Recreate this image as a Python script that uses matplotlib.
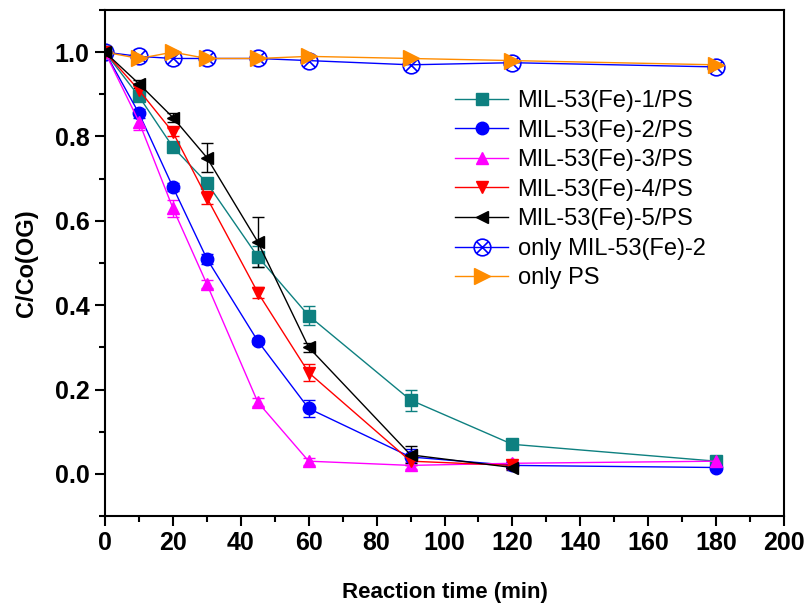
import numpy as np
import matplotlib
matplotlib.use('Agg')
from matplotlib import pyplot as plt
from matplotlib.path import Path
from matplotlib.ticker import MultipleLocator

plt.rcParams['font.family'] = ['Liberation Sans', 'DejaVu Sans']

# --- data: C/Co of OG vs reaction time ---
t_full = [0, 10, 20, 30, 45, 60, 90, 120, 180]
t_short = [0, 10, 20, 30, 45, 60, 90, 120]

mil1 = [1.0, 0.895, 0.775, 0.69, 0.515, 0.375, 0.175, 0.07, 0.03]
mil1_err = [0, 0.01, 0.012, 0.01, 0.025, 0.022, 0.025, 0.005, 0.005]
mil2 = [1.0, 0.855, 0.68, 0.51, 0.315, 0.155, 0.04, 0.02, 0.015]
mil2_err = [0, 0.01, 0.01, 0.012, 0.008, 0.02, 0.02, 0.005, 0.005]
mil3 = [1.0, 0.835, 0.63, 0.45, 0.17, 0.03, 0.02, 0.025, 0.03]
mil3_err = [0, 0.02, 0.02, 0.01, 0.01, 0.008, 0.008, 0.005, 0.005]
mil4 = [1.0, 0.91, 0.81, 0.655, 0.43, 0.24, 0.03, 0.02]
mil4_err = [0, 0.01, 0.01, 0.015, 0.012, 0.02, 0.01, 0.005]
mil5 = [1.0, 0.925, 0.845, 0.75, 0.55, 0.30, 0.045, 0.015]
mil5_err = [0, 0.01, 0.01, 0.035, 0.06, 0.01, 0.02, 0.005]
only_mil2 = [1.0, 0.99, 0.985, 0.985, 0.985, 0.98, 0.97, 0.975, 0.965]
only_ps = [1.0, 0.985, 1.0, 0.985, 0.985, 0.99, 0.985, 0.98, 0.97]

labels = ['MIL-53(Fe)-1/PS', 'MIL-53(Fe)-2/PS', 'MIL-53(Fe)-3/PS',
          'MIL-53(Fe)-4/PS', 'MIL-53(Fe)-5/PS', 'only MIL-53(Fe)-2', 'only PS']

# circle with a cross inside
circ = Path.unit_circle()
d = np.sqrt(0.5)
cross = Path([(-d, -d), (d, d), (-d, d), (d, -d)],
             [Path.MOVETO, Path.LINETO, Path.MOVETO, Path.LINETO])
circx = Path.make_compound_path(circ, cross)

fig = plt.figure(figsize=(8.09, 6.09), dpi=100)
ax = fig.add_axes([0.1298, 0.1527, 0.8393, 0.8309])

handles = []
eb = ax.errorbar(t_full, mil1, yerr=mil1_err, color='#0e8080', marker='s', ms=8,
                 lw=1, capsize=4, elinewidth=1)
handles.append(eb[0])
eb = ax.errorbar(t_full, mil2, yerr=mil2_err, color='#0000ff', marker='o', ms=9,
                 lw=1, capsize=4, elinewidth=1)
handles.append(eb[0])
eb = ax.errorbar(t_full, mil3, yerr=mil3_err, color='#ff00ff', marker='^', ms=9,
                 lw=1, capsize=4, elinewidth=1)
handles.append(eb[0])
eb = ax.errorbar(t_short, mil4, yerr=mil4_err, color='#ff0000', marker='v', ms=9,
                 lw=1, capsize=4, elinewidth=1)
handles.append(eb[0])
eb = ax.errorbar(t_short, mil5, yerr=mil5_err, color='#000000', marker='<', ms=9,
                 lw=1, capsize=4, elinewidth=1)
handles.append(eb[0])
ln, = ax.plot(t_full, only_mil2, color='#0000ff', marker=circx, ms=12, mfc='none',
              mec='#0000ff', mew=1.2, lw=1)
handles.append(ln)
ln, = ax.plot(t_full, only_ps, color='#ff8c00', marker='>', ms=11, lw=1)
handles.append(ln)

ax.set_xlim(0, 200)
ax.set_ylim(-0.1, 1.1)
ax.xaxis.set_major_locator(MultipleLocator(20))
ax.xaxis.set_minor_locator(MultipleLocator(10))
ax.yaxis.set_minor_locator(MultipleLocator(0.1))
ax.set_yticks([0.0, 0.2, 0.4, 0.6, 0.8, 1.0])
ax.set_yticklabels(['0.0', '0.2', '0.4', '0.6', '0.8', '1.0'])
ax.tick_params(which='major', direction='out', length=7.5, width=1.5,
               labelsize=18, pad=3.5)
ax.tick_params(which='minor', direction='out', length=4, width=1.5)
for lb in ax.get_xticklabels() + ax.get_yticklabels():
    lb.set_fontweight('bold')
for s in ax.spines.values():
    s.set_linewidth(1.5)

ax.set_xlabel('Reaction time (min)', fontsize=16, fontweight='bold', labelpad=19)
ax.set_ylabel('C/Co(OG)', fontsize=17, fontweight='bold', labelpad=12)

ax.legend(handles, labels, loc='upper left', bbox_to_anchor=(455 / 809, 1 - 90 / 609),
          bbox_transform=fig.transFigure, frameon=False, fontsize=17,
          handlelength=2.25, labelspacing=0.32, borderaxespad=0, borderpad=0,
          handletextpad=0.4)

fig.savefig('out.png', dpi=100)
